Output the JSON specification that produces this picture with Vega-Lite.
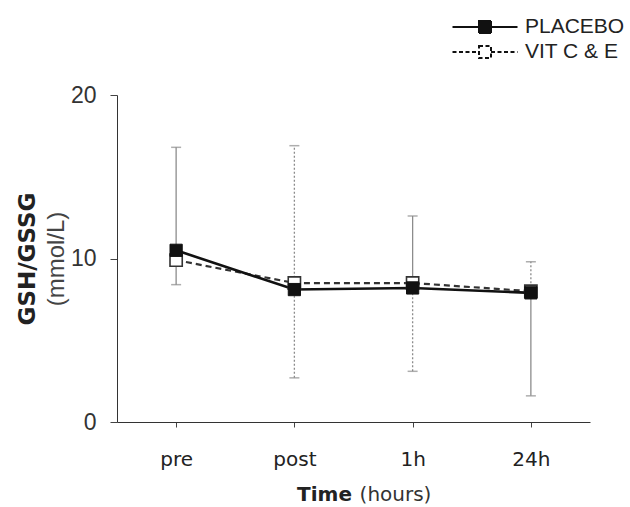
{
  "$schema": "https://vega.github.io/schema/vega-lite/v6.json",
  "width": 473,
  "height": 327,
  "autosize": "none",
  "padding": {"left": 117, "top": 95, "right": 40, "bottom": 85},
  "background": "white",
  "config": {
    "view": {"stroke": null},
    "font": "Liberation Sans",
    "axis": {"grid": false},
    "legend": {"symbolStrokeColor": "#111", "symbolStrokeWidth": 2, "symbolOpacity": 1}
  },
  "datasets": {
    "means": [
      {"time": "pre", "group": "PLACEBO", "mean": 10.5},
      {"time": "post", "group": "PLACEBO", "mean": 8.1},
      {"time": "1h", "group": "PLACEBO", "mean": 8.2},
      {"time": "24h", "group": "PLACEBO", "mean": 7.9},
      {"time": "pre", "group": "VIT C & E", "mean": 9.9},
      {"time": "post", "group": "VIT C & E", "mean": 8.5},
      {"time": "1h", "group": "VIT C & E", "mean": 8.5},
      {"time": "24h", "group": "VIT C & E", "mean": 8.0}
    ],
    "bars": [
      {"time": "pre", "group": "PLACEBO", "lo": 8.4, "hi": 16.8},
      {"time": "post", "group": "VIT C & E", "lo": 2.7, "hi": 16.9},
      {"time": "1h", "group": "PLACEBO", "lo": 8.2, "hi": 12.6},
      {"time": "1h", "group": "VIT C & E", "lo": 3.1, "hi": 8.5},
      {"time": "24h", "group": "PLACEBO", "lo": 1.6, "hi": 7.9},
      {"time": "24h", "group": "VIT C & E", "lo": 8.0, "hi": 9.8}
    ]
  },
  "resolve": {"axis": {"x": "independent", "y": "independent"}},
  "layer": [
    {
      "data": {"name": "bars"},
      "transform": [{"filter": "datum.group === 'PLACEBO'"}],
      "mark": {"type": "rule", "color": "#8c8c8c", "strokeWidth": 1.3},
      "encoding": {
        "x": {"field": "time", "type": "nominal", "sort": ["pre", "post", "1h", "24h"], "scale": {"type": "point", "padding": 0.5},
          "axis": {"title": "Time", "titleX": 207, "titleFont": "DejaVu Sans", "titleFontSize": 20, "titleFontWeight": "bold", "titleColor": "#222", "titlePadding": 15,
            "labelAngle": 0, "labelFont": "DejaVu Sans", "labelFontSize": 20, "labelColor": "#222", "labelPadding": 22, "tickSize": 5, "tickColor": "#444", "domainColor": "#333"}},
        "y": {"field": "lo", "type": "quantitative", "scale": {"domain": [0, 20]},
          "axis": {"values": [0, 10, 20], "title": "GSH/GSSG", "titleFont": "DejaVu Sans", "titleFontSize": 23, "titleFontWeight": "bold", "titleColor": "#222", "titlePadding": 31,
            "labelFont": "Liberation Sans", "labelFontSize": 23, "labelColor": "#333", "labelPadding": 14, "tickSize": 7, "tickColor": "#444", "domainColor": "#333"}},
        "y2": {"field": "hi"}
      }
    },
    {
      "data": {"name": "bars"},
      "transform": [{"filter": "datum.group !== 'PLACEBO'"}],
      "mark": {"type": "rule", "color": "#8c8c8c", "strokeWidth": 1.3, "strokeDash": [2, 2]},
      "encoding": {
        "x": {"field": "time", "type": "nominal", "sort": ["pre", "post", "1h", "24h"], "scale": {"type": "point", "padding": 0.5}, "axis": null},
        "y": {"field": "lo", "type": "quantitative", "scale": {"domain": [0, 20]}, "axis": null},
        "y2": {"field": "hi"}
      }
    },
    {
      "data": {"name": "bars"},
      "mark": {"type": "tick", "color": "#8c8c8c", "size": 10, "thickness": 1.5},
      "encoding": {
        "x": {"field": "time", "type": "nominal", "sort": ["pre", "post", "1h", "24h"], "scale": {"type": "point", "padding": 0.5}, "axis": null},
        "y": {"field": "lo", "type": "quantitative", "scale": {"domain": [0, 20]}, "axis": null}
      }
    },
    {
      "data": {"name": "bars"},
      "mark": {"type": "tick", "color": "#8c8c8c", "size": 10, "thickness": 1.5},
      "encoding": {
        "x": {"field": "time", "type": "nominal", "sort": ["pre", "post", "1h", "24h"], "scale": {"type": "point", "padding": 0.5}, "axis": null},
        "y": {"field": "hi", "type": "quantitative", "scale": {"domain": [0, 20]}, "axis": null}
      }
    },
    {
      "data": {"name": "means"},
      "transform": [{"filter": "datum.group !== 'PLACEBO'"}],
      "mark": {"type": "line", "color": "#333", "strokeWidth": 2.2, "strokeDash": [6, 4]},
      "encoding": {
        "x": {"field": "time", "type": "nominal", "sort": ["pre", "post", "1h", "24h"], "scale": {"type": "point", "padding": 0.5}, "axis": null},
        "y": {"field": "mean", "type": "quantitative", "scale": {"domain": [0, 20]}, "axis": null}
      }
    },
    {
      "data": {"name": "means"},
      "transform": [{"filter": "datum.group === 'PLACEBO'"}],
      "mark": {"type": "line", "color": "#111", "strokeWidth": 2.6},
      "encoding": {
        "x": {"field": "time", "type": "nominal", "sort": ["pre", "post", "1h", "24h"], "scale": {"type": "point", "padding": 0.5}, "axis": null},
        "y": {"field": "mean", "type": "quantitative", "scale": {"domain": [0, 20]}, "axis": null}
      }
    },
    {
      "data": {"name": "means"},
      "transform": [{"filter": "datum.group !== 'PLACEBO'"}],
      "mark": {"type": "point", "shape": "square", "size": 150, "filled": true, "fill": "white", "stroke": "#333", "strokeWidth": 1.6, "opacity": 1},
      "encoding": {
        "x": {"field": "time", "type": "nominal", "sort": ["pre", "post", "1h", "24h"], "scale": {"type": "point", "padding": 0.5}, "axis": null},
        "y": {"field": "mean", "type": "quantitative", "scale": {"domain": [0, 20]}, "axis": null}
      }
    },
    {
      "data": {"name": "means"},
      "transform": [{"filter": "datum.group === 'PLACEBO'"}],
      "mark": {"type": "point", "shape": "square", "size": 150, "filled": true, "fill": "#111", "stroke": "#111", "strokeWidth": 1, "opacity": 1},
      "encoding": {
        "x": {"field": "time", "type": "nominal", "sort": ["pre", "post", "1h", "24h"], "scale": {"type": "point", "padding": 0.5}, "axis": null},
        "y": {"field": "mean", "type": "quantitative", "scale": {"domain": [0, 20]}, "axis": null}
      }
    },
    {
      "data": {"name": "means"},
      "mark": {"type": "point", "filled": true, "size": 400, "fillOpacity": 0, "strokeOpacity": 0, "stroke": "#111", "strokeWidth": 2},
      "encoding": {
        "x": {"field": "time", "type": "nominal", "sort": ["pre", "post", "1h", "24h"], "scale": {"type": "point", "padding": 0.5},
          "axis": {"orient": "bottom", "title": "(hours)", "titleX": 278, "titleFont": "DejaVu Sans", "titleFontSize": 20, "titleFontWeight": "normal", "titleColor": "#333", "titlePadding": 15,
            "labelAngle": 0, "labelFont": "DejaVu Sans", "labelFontSize": 20, "labelColor": "#222", "labelPadding": 22, "labelOpacity": 0, "tickSize": 5, "tickOpacity": 0, "domain": false}},
        "y": {"field": "mean", "type": "quantitative", "scale": {"domain": [0, 20]},
          "axis": {"orient": "left", "title": "(mmol/L)", "titleFont": "Liberation Sans", "titleFontSize": 24, "titleFontWeight": "normal", "titleColor": "#444", "titlePadding": 49, "labels": false, "ticks": false, "domain": false}},
        "shape": {"field": "group", "type": "nominal", "scale": {"domain": ["PLACEBO", "VIT C & E"], "range": ["M-3.25,0H-0.6M0.6,0H3.25M-0.6,-0.6H0.6V0.6H-0.6Z", "M-3.25,0H-0.6M0.6,0H3.25M-0.6,-0.6H0.6V0.6H-0.6Z"]},
          "legend": {"title": null, "orient": "none", "legendX": 357, "legendY": -79, "labelFont": "Liberation Sans", "labelFontSize": 21, "labelColor": "#222", "labelOffset": 29, "rowPadding": 4,
            "symbolSize": 400,
            "encode": {"symbols": {"update": {"opacity": {"value": 1}, "fillOpacity": {"value": 1}, "strokeOpacity": {"value": 1}, "stroke": {"value": "#111"}, "strokeWidth": {"value": 2}}}}}},
        "fill": {"field": "group", "type": "nominal", "scale": {"domain": ["PLACEBO", "VIT C & E"], "range": ["#111", "#ffffff"]},
          "legend": {"title": null, "orient": "none", "legendX": 357, "legendY": -79, "labelFont": "Liberation Sans", "labelFontSize": 21, "labelColor": "#222", "labelOffset": 29, "rowPadding": 4,
            "symbolSize": 400,
            "encode": {"symbols": {"update": {"opacity": {"value": 1}, "fillOpacity": {"value": 1}, "strokeOpacity": {"value": 1}, "stroke": {"value": "#111"}, "strokeWidth": {"value": 2}}}}}},
        "strokeDash": {"field": "group", "type": "nominal", "scale": {"domain": ["PLACEBO", "VIT C & E"], "range": [[1, 0], [4, 2.5]]},
          "legend": {"title": null, "orient": "none", "legendX": 357, "legendY": -79, "labelFont": "Liberation Sans", "labelFontSize": 21, "labelColor": "#222", "labelOffset": 29, "rowPadding": 4,
            "symbolSize": 400,
            "encode": {"symbols": {"update": {"opacity": {"value": 1}, "fillOpacity": {"value": 1}, "strokeOpacity": {"value": 1}, "stroke": {"value": "#111"}, "strokeWidth": {"value": 2}}}}}}
      }
    }
  ]
}
